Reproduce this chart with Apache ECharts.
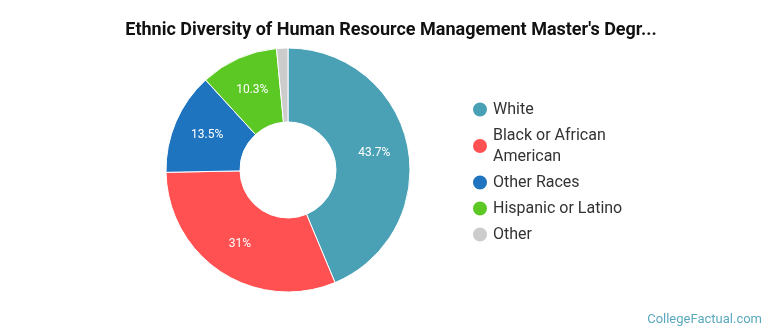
<!DOCTYPE html>
<html><head><meta charset="utf-8">
<script src="https://cdn.jsdelivr.net/npm/echarts@6/dist/echarts.min.js"></script>
<style>html,body{margin:0;padding:0;background:#fff}#c{width:770px;height:335px}</style>
</head><body><div id="c"></div>
<script>
const categories = ['White', 'Black or African American', 'Other Races', 'Hispanic or Latino', 'Other'];
const values = [43.7, 31, 13.5, 10.3, 1.5];
const labels = ['43.7%', '31%', '13.5%', '10.3%', ''];
const colors = ['#4aa0b5', '#ff5152', '#1f74bf', '#5cc824', '#cccccc'];

const chart = echarts.init(document.getElementById('c'), null, {renderer: 'canvas'});
chart.setOption({
  animation: false,
  title: {
    text: "Ethnic Diversity of Human Resource Management Master's Degr...",
    left: 386, top: 16, textAlign: 'center',
    textStyle: {fontFamily: 'Roboto', fontWeight: 'bold', fontSize: 18, color: '#111'}
  },
  graphic: [{
    type: 'text', right: 8, top: 313,
    style: {text: 'CollegeFactual.com', fontFamily: 'Roboto', fontSize: 13, fill: '#5aa8bf'}
  }],
  legend: {
    orient: 'vertical', left: 466, top: 94,
    icon: 'circle', itemWidth: 16, itemHeight: 16, itemGap: 5,
    textStyle: {fontFamily: 'Roboto', fontSize: 16, color: '#333', width: 140, overflow: 'break', lineHeight: 21},
    data: categories
  },
  series: [{
    type: 'pie',
    center: [288, 170],
    radius: [48, 122],
    startAngle: 90,
    clockwise: true,
    itemStyle: {borderColor: '#fff', borderWidth: 1},
    label: {
      show: true, position: 'inside', color: '#fff', fontFamily: 'Roboto', fontSize: 12,
      formatter: p => labels[p.dataIndex]
    },
    labelLine: {show: false},
    data: categories.map((n, i) => ({name: n, value: values[i], itemStyle: {color: colors[i]}}))
  }]
});
</script></body></html>
